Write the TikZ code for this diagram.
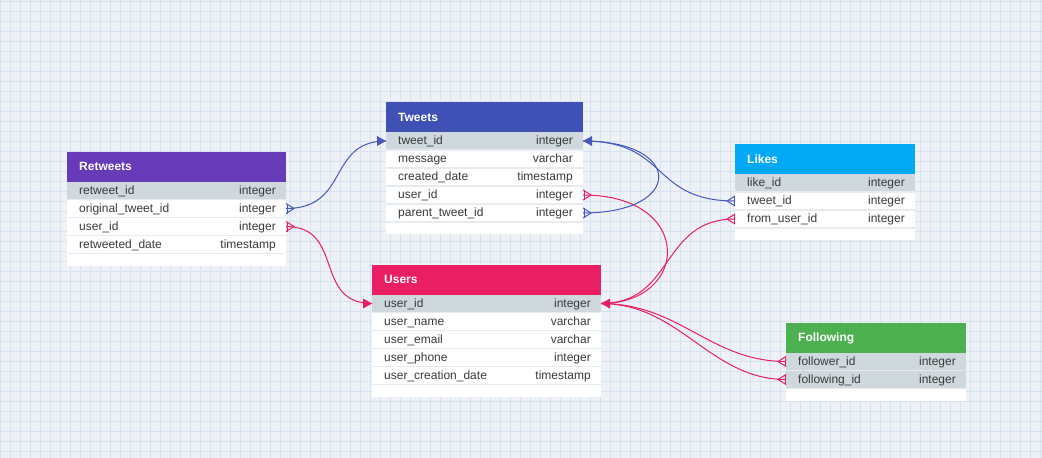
\documentclass[tikz,border=0pt]{standalone}
\usepackage{fontspec}
\setmainfont{Liberation Sans}
\usetikzlibrary{calc}
\definecolor{bgc}{HTML}{EEF2F6}
\definecolor{gridc}{HTML}{D6E3F3}
\definecolor{pkgray}{HTML}{CFD8DC}
\definecolor{sepc}{HTML}{E6EBEF}
\definecolor{txtc}{HTML}{3A3A3A}
\definecolor{cretweets}{HTML}{673AB7}
\definecolor{ctweets}{HTML}{3F51B5}
\definecolor{clikes}{HTML}{03A9F4}
\definecolor{cusers}{HTML}{E91E63}
\definecolor{cfollow}{HTML}{4CAF50}
\definecolor{lnblue}{HTML}{4757C0}
\definecolor{lnpink}{HTML}{E91E63}

\tikzset{
  gridln/.style={draw=gridc,line width=0.5pt},
  hdrtxt/.style={text=white,font=\fontsize{12}{14}\selectfont\bfseries,inner sep=0pt},
  rowtxt/.style={text=txtc,font=\fontsize{12}{14}\selectfont,inner sep=0pt},
  rowbox/.style={draw=none,inner sep=0pt,outer sep=0pt,minimum height=18pt},
  sepln/.style={draw=sepc,line width=1.5pt},
  lnb/.style={draw=lnblue,line width=1pt},
  lnp/.style={draw=lnpink,line width=1pt},
}

\newcommand{\ertab}[9]{%
  \fill[white] (#2,#4) rectangle (#3,#4+30+18*#7+12);
  \fill[#6] (#2,#4) rectangle (#3,#4+30);
  \node[hdrtxt,anchor=base west] (#1-title) at (#2+12,#4+19) {#5};
  \foreach \rn/\rt [count=\ri] in {#9}{%
    \ifnum\ri>#8\relax\def\rowfill{white}\else\def\rowfill{pkgray}\fi
    \node[rowbox,fill=\rowfill,minimum width={#3pt-#2pt},anchor=north west] (#1-\ri) at (#2,#4+30+18*\ri-18) {};
    \ifnum\ri>1\relax\draw[sepln] (#1-\ri.north west) -- (#1-\ri.north east);\fi
    \node[rowtxt,anchor=base west] (#1-\ri-n) at ($(#1-\ri.west)+(12,3.8)$) {\rn};
    \node[rowtxt,anchor=base east] (#1-\ri-t) at ($(#1-\ri.east)+(-10,3.8)$) {\rt};
  }%
  \draw[sepln] (#1-#7.south west) -- (#1-#7.south east);
}
\newcommand{\crowE}[2]{%
  \draw[#2] ($(#1.east)+(0,-5)$) -- ($(#1.east)+(8,0)$) -- ($(#1.east)+(0,5)$);
  \draw[#2] ($(#1.east)+(1,-5)$) -- ($(#1.east)+(1,5)$);
}
\newcommand{\crowW}[2]{%
  \draw[#2] ($(#1.west)+(0,-5)$) -- ($(#1.west)+(-8,0)$) -- ($(#1.west)+(0,5)$);
  \draw[#2] ($(#1.west)+(-1,-5)$) -- ($(#1.west)+(-1,5)$);
}
\newcommand{\pkE}[2]{\fill[#2] (#1.east) -- ++(9,-5) -- ++(0,10) -- cycle;}
\newcommand{\pkW}[2]{\fill[#2] (#1.west) -- ++(-9,-5) -- ++(0,10) -- cycle;}

\begin{document}
\begin{tikzpicture}[x=1pt,y=-1pt]
\useasboundingbox (0,0) rectangle (1042,458);
\fill[bgc] (0,0) rectangle (1042,458);
\foreach \gx in {0.5,10.5,...,1040.5} \draw[gridln] (\gx,0) -- (\gx,458);
\foreach \gy in {1.5,11.5,...,451.5} \draw[gridln] (0,\gy) -- (1042,\gy);

\ertab{rt}{67}{286}{151.5}{Retweets}{cretweets}{4}{1}{retweet\_id/integer, original\_tweet\_id/integer, user\_id/integer, retweeted\_date/timestamp}
\ertab{tw}{386}{583}{102}{Tweets}{ctweets}{5}{1}{tweet\_id/integer, message/varchar, created\_date/timestamp, user\_id/integer, parent\_tweet\_id/integer}
\ertab{lk}{735}{915}{144}{Likes}{clikes}{3}{1}{like\_id/integer, tweet\_id/integer, from\_user\_id/integer}
\ertab{us}{372}{601}{264.5}{Users}{cusers}{5}{1}{user\_id/integer, user\_name/varchar, user\_email/varchar, user\_phone/integer, user\_creation\_date/timestamp}
\ertab{fo}{786}{966}{322.5}{Following}{cfollow}{2}{2}{follower\_id/integer, following\_id/integer}

% connectors
\draw[lnb] (rt-2.east) .. controls +(64,0) and +(-59,0) .. (tw-1.west);
\draw[lnp] (rt-3.east) .. controls +(59,0) and +(-59,0) .. (us-1.west);
\draw[lnp] (tw-4.east) .. controls +(112,0) and +(89,0) .. (us-1.east);
\draw[lnb] (tw-1.east) .. controls +(87,0) and +(-85,0) .. (lk-2.west);
\draw[lnb] (tw-5.east) .. controls +(101,0) and +(101,0) .. (tw-1.east);
\draw[lnp] (lk-3.west) .. controls +(-75,0) and +(74,0) .. (us-1.east);
\draw[lnp] (us-1.east) .. controls +(79,0) and +(-76,0) .. (fo-1.west);
\draw[lnp] (us-1.east) .. controls +(79,0) and +(-76,0) .. (fo-2.west);

% ends
\crowE{rt-2}{lnb}
\crowE{rt-3}{lnp}
\crowE{tw-4}{lnp}
\crowE{tw-5}{lnb}
\crowW{lk-2}{lnb}
\crowW{lk-3}{lnp}
\crowW{fo-1}{lnp}
\crowW{fo-2}{lnp}
\pkW{tw-1}{lnblue}
\pkE{tw-1}{lnblue}
\pkW{us-1}{lnpink}
\pkE{us-1}{lnpink}
\end{tikzpicture}
\end{document}
